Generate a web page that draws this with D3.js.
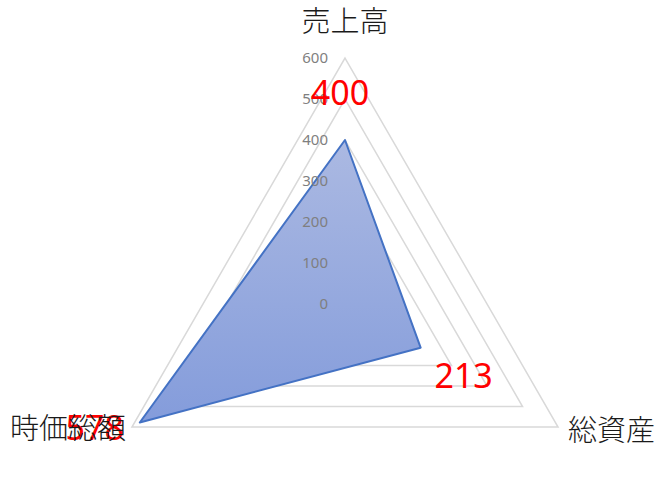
<!DOCTYPE html>
<html><head><meta charset="utf-8">
<script src="https://cdn.jsdelivr.net/npm/d3@7"></script>
<style>body{margin:0;background:#fff}svg{display:block}</style>
</head><body>
<svg id="c" width="670" height="481"></svg>
<script>
const categories = ["売上高", "総資産", "時価総額"];
const values = [400, 213, 578];
const tickValues = [0, 100, 200, 300, 400, 500, 600];

const W = 670, H = 481, cx = 345, cy = 304, R = 246;
const svg = d3.select("#c");
const r = d3.scaleLinear().domain([0, 600]).range([0, R]);
const ang = d3.scaleLinear().domain([0, categories.length]).range([-Math.PI / 2, 1.5 * Math.PI]);
const pt = (i, v) => [cx + r(v) * Math.cos(ang(i)), cy + r(v) * Math.sin(ang(i))];

const defs = svg.append("defs");
const grad = defs.append("linearGradient").attr("id", "g").attr("x1", 0).attr("y1", 0).attr("x2", 0).attr("y2", 1);
grad.append("stop").attr("offset", "0%").attr("stop-color", "#abb9e2");
grad.append("stop").attr("offset", "100%").attr("stop-color", "#849cdb");

// grid
tickValues.filter(t => t > 0).forEach(t => {
  svg.append("polygon")
    .attr("points", categories.map((c, i) => pt(i, t).join(",")).join(" "))
    .attr("fill", "none").attr("stroke", "#d9d9d9").attr("stroke-width", 1.5);
});

// data polygon
svg.append("polygon")
  .attr("points", values.map((v, i) => pt(i, v).join(",")).join(" "))
  .attr("fill", "url(#g)").attr("stroke", "#4472c4").attr("stroke-width", 2).attr("stroke-linejoin", "round");

// tick labels
svg.selectAll(".tick").data(tickValues).join("text")
  .attr("x", cx - 17).attr("y", d => cy - r(d)).attr("dy", "0.35em")
  .attr("text-anchor", "end").attr("font-family", "'Noto Sans', sans-serif")
  .attr("font-size", 15).attr("fill", "#7f7f7f").text(d => d);

// data labels
const labelOffsets = [[-5, -47], [43, 28], [-45, 5]];
svg.selectAll(".dl").data(values).join("text")
  .attr("x", (d, i) => pt(i, d)[0] + labelOffsets[i][0])
  .attr("y", (d, i) => pt(i, d)[1] + labelOffsets[i][1])
  .attr("dy", "0.36em").attr("text-anchor", "middle")
  .attr("font-family", "'Noto Sans', sans-serif").attr("font-size", 34)
  .attr("fill", "#ff0000").text(d => d);

// category labels
const catPos = [
  {dx: 0, dy: -36, anchor: "middle"},
  {dx: 10, dy: 4, anchor: "start"},
  {dx: -6, dy: 2, anchor: "end"}
];
svg.selectAll(".cat").data(categories).join("text")
  .attr("x", (d, i) => pt(i, 600)[0] + catPos[i].dx)
  .attr("y", (d, i) => pt(i, 600)[1] + catPos[i].dy)
  .attr("dy", "0.36em").attr("text-anchor", (d, i) => catPos[i].anchor)
  .attr("font-family", "'Noto Sans CJK JP', sans-serif").attr("font-size", 29).attr("font-weight", 300)
  .attr("fill", "#1a1a1a").text(d => d);
</script>
</body></html>
